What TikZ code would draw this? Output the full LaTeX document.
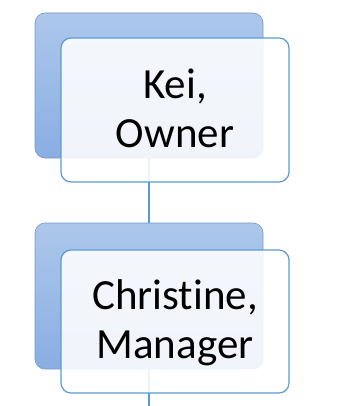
\documentclass[tikz,border=0pt]{standalone}
\usepackage{fontspec}
\setmainfont[Ligatures=NoCommon]{Carlito}
\definecolor{linkblue}{RGB}{91,155,213}
\definecolor{backtop}{RGB}{172,199,235}
\definecolor{backbot}{RGB}{138,174,226}
\definecolor{backedge}{RGB}{120,150,200}
\begin{document}
\begin{tikzpicture}[x=1pt,y=-1pt,
  backbox/.style={rectangle, rounded corners=10pt, minimum width=228pt, inner sep=0pt,
    top color=backtop, bottom color=backbot, draw=backedge, line width=0.6pt},
  frontbox/.style={rectangle, rounded corners=10pt, minimum width=228pt, inner sep=0pt,
    fill=white, fill opacity=0.88, text opacity=1, draw=linkblue, line width=1.2pt,
    align=center, text depth=4pt,
    font=\fontsize{43}{49}\selectfont},
  link/.style={draw=linkblue, line width=1.4pt}]
\useasboundingbox (0,0) rectangle (351,406);
% back boxes
\node[backbox, minimum height=145pt] (b1) at (149,85.5) {};
\node[backbox, minimum height=146pt] (b2) at (149,296) {};
% connectors
\coordinate (end) at (149,406);
\draw[link] (b1.south) -- (b2.north);
\draw[link] (b2.south) -- (end);
% front boxes
\node[frontbox, minimum height=144pt] (f1) at (175,110) {Kei,\\Owner};
\node[frontbox, minimum height=143pt] (f2) at (175,321.5) {Christine,\\Manager};
\end{tikzpicture}
\end{document}
